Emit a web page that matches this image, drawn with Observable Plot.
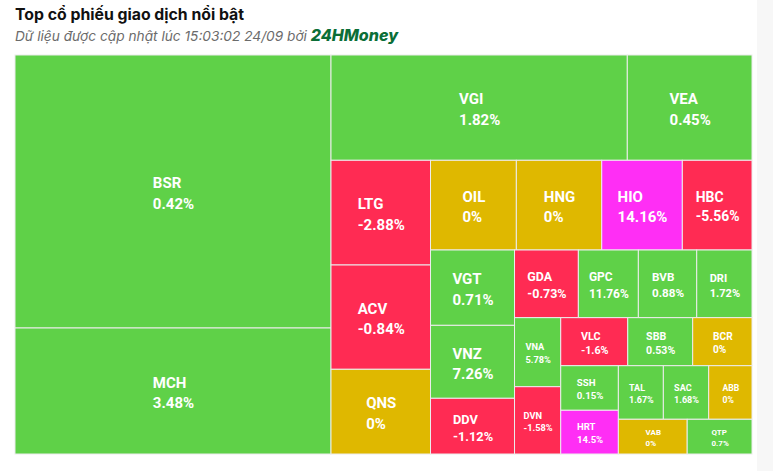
<!DOCTYPE html>
<html><head><meta charset="utf-8">
<script src="https://cdn.jsdelivr.net/npm/d3@7"></script>
<script src="https://cdn.jsdelivr.net/npm/@observablehq/plot@0.6"></script>
<style>
body{margin:0;background:#fff;}
#wrap{position:relative;width:773px;height:471px;overflow:hidden;background:#fff}
#title{position:absolute;left:15px;top:7px;font-family:Inter,Roboto,sans-serif;font-size:15.8px;line-height:15.8px;font-weight:700;color:#111;white-space:nowrap}
#sub{position:absolute;left:15px;top:29px;font-family:Inter,Roboto,sans-serif;font-size:13.7px;line-height:13.7px;font-style:italic;color:#6b6b6b;white-space:nowrap}
#sub b{color:#0b6e37;font-size:16px;font-weight:800}
#chart{position:absolute;left:0;top:50px}
#strip{position:absolute;right:0;top:0;width:16px;height:471px;background:#f7f7f7}
</style></head>
<body><div id="wrap"><div id="strip"></div>
<div id="title">Top cổ phiếu giao dịch nổi bật</div>
<div id="sub">Dữ liệu được cập nhật lúc 15:03:02 24/09 bởi <b>24HMoney</b></div>
<div id="chart"></div></div>
<script>
// ---- data ----
const tickers = ["BSR","MCH","VGI","VEA","LTG","ACV","QNS","OIL","HNG","HIO","HBC","VGT","VNZ","DDV","GDA","GPC","BVB","DRI","VNA","DVN","VLC","SBB","BCR","SSH","HRT","TAL","SAC","ABB","VAB","QTP"];
// trading value (relative units)
const values = [862.7,398.2,312.0,131.3,104.2,103.8,84.3,77.0,76.6,72.3,62.5,63.3,61.3,46.8,43.2,40.6,39.5,37.4,31.9,31.1,32.2,31.2,28.5,25.7,25.2,24.1,24.3,23.2,23.9,22.5];
const changes = [0.42,3.48,1.82,0.45,-2.88,-0.84,0,0,0,14.16,-5.56,0.71,7.26,-1.12,-0.73,11.76,0.88,1.72,5.78,-1.58,-1.6,0.53,0,0.15,14.5,1.67,1.68,0,0,0.7];
const ceilingTickers = ["HIO","HRT"];
const statusDomain = ["Tăng","Giảm","Đứng giá","Trần"];
const statusColors = ["#5fd148","#ff2b53","#dfb800","#ff2ef5"];

// ---- layout (alternating squarified, row/column direction switches after each group) ----
const LW = 737, LH = 399;
function ratio(w, h) { return Math.max(w / h, h / w); }
function tileAlternate(parent, x0, y0, x1, y1) {
  const nodes = parent.children, n = nodes.length;
  let dir = 0, i = 0;
  while (i < n) {
    const W = x1 - x0, H = y1 - y0;
    const rest = d3.sum(nodes.slice(i), d => d.value);
    const k = (W * H) / rest;
    let sum = nodes[i].value * k, j = i + 1;
    while (j < n) {
      const prev = nodes[j - 1].value * k, next = nodes[j].value * k;
      let lR, nR;
      if (dir === 0) {
        const lW = sum / H, nW = (sum + next) / H;
        lR = ratio(lW, prev / lW); nR = ratio(nW, prev / nW);
      } else {
        const lHh = sum / W, nH = (sum + next) / W;
        lR = ratio(prev / lHh, lHh); nR = ratio(prev / nH, nH);
      }
      if (nR > lR) break;
      sum += next; j++;
    }
    if (j === n) sum = W * H;
    if (dir === 0) {
      const cw = sum / H; let y = y0;
      for (let t = i; t < j; t++) { const h = nodes[t].value * k / cw; Object.assign(nodes[t], {x0: x0, x1: x0 + cw, y0: y, y1: y + h}); y += h; }
      x0 += cw;
    } else {
      const rh = sum / W; let x = x0;
      for (let t = i; t < j; t++) { const w = nodes[t].value * k / rh; Object.assign(nodes[t], {x0: x, x1: x + w, y0: y0, y1: y0 + rh}); x += w; }
      y0 += rh;
    }
    dir = 1 - dir; i = j;
  }
}
const items = tickers.map((t, i) => ({ticker: t, value: values[i], change: changes[i]}));
const root = d3.hierarchy({children: items}).sum(d => d.value || 0);
d3.treemap().tile(tileAlternate).size([LW, LH]).round(false)(root);

const ctx = document.createElement("canvas").getContext("2d");
const cells = root.leaves().map(l => {
  const d = l.data, w = l.x1 - l.x0, h = l.y1 - l.y0;
  const fs = Math.min(15, Math.sqrt(w * h) * 0.19, w * 0.2, h * 0.23);
  const label = d.change + "%";
  ctx.font = `bold ${fs}px Roboto`;
  const bw = Math.max(ctx.measureText(d.ticker).width, ctx.measureText(label).width);
  const status = ceilingTickers.includes(d.ticker) ? "Trần" : d.change > 0 ? "Tăng" : d.change < 0 ? "Giảm" : "Đứng giá";
  return {...d, x0: l.x0, x1: l.x1, y0: l.y0, y1: l.y1, fs, bw, label, status};
});

const chart = Plot.plot({
  width: 773, height: 421,
  marginLeft: 15, marginRight: 21, marginTop: 5, marginBottom: 17,
  x: {domain: [0, LW], range: [15, 752], axis: null},
  y: {domain: [0, LH], range: [5, 404], axis: null},
  color: {type: "ordinal", domain: statusDomain, range: statusColors},
  style: {background: "transparent", overflow: "visible"},
  marks: [
    Plot.rect(cells, {x1: "x0", x2: "x1", y1: "y0", y2: "y1", fill: "status", stroke: "#ececec", strokeWidth: 1}),
    Plot.text(cells, {
      x: d => (d.x0 + d.x1) / 2 - d.bw / 2,
      y: d => (d.y0 + d.y1) / 2,
      text: d => d.ticker + "\n" + d.label,
      fontSize: d => d.fs,
      textAnchor: "start", lineAnchor: "middle", lineHeight: 1.36,
      fill: "white", fontWeight: "bold", fontFamily: "Roboto"
    })
  ]
});
document.getElementById("chart").appendChild(chart);
</script>
</body></html>
